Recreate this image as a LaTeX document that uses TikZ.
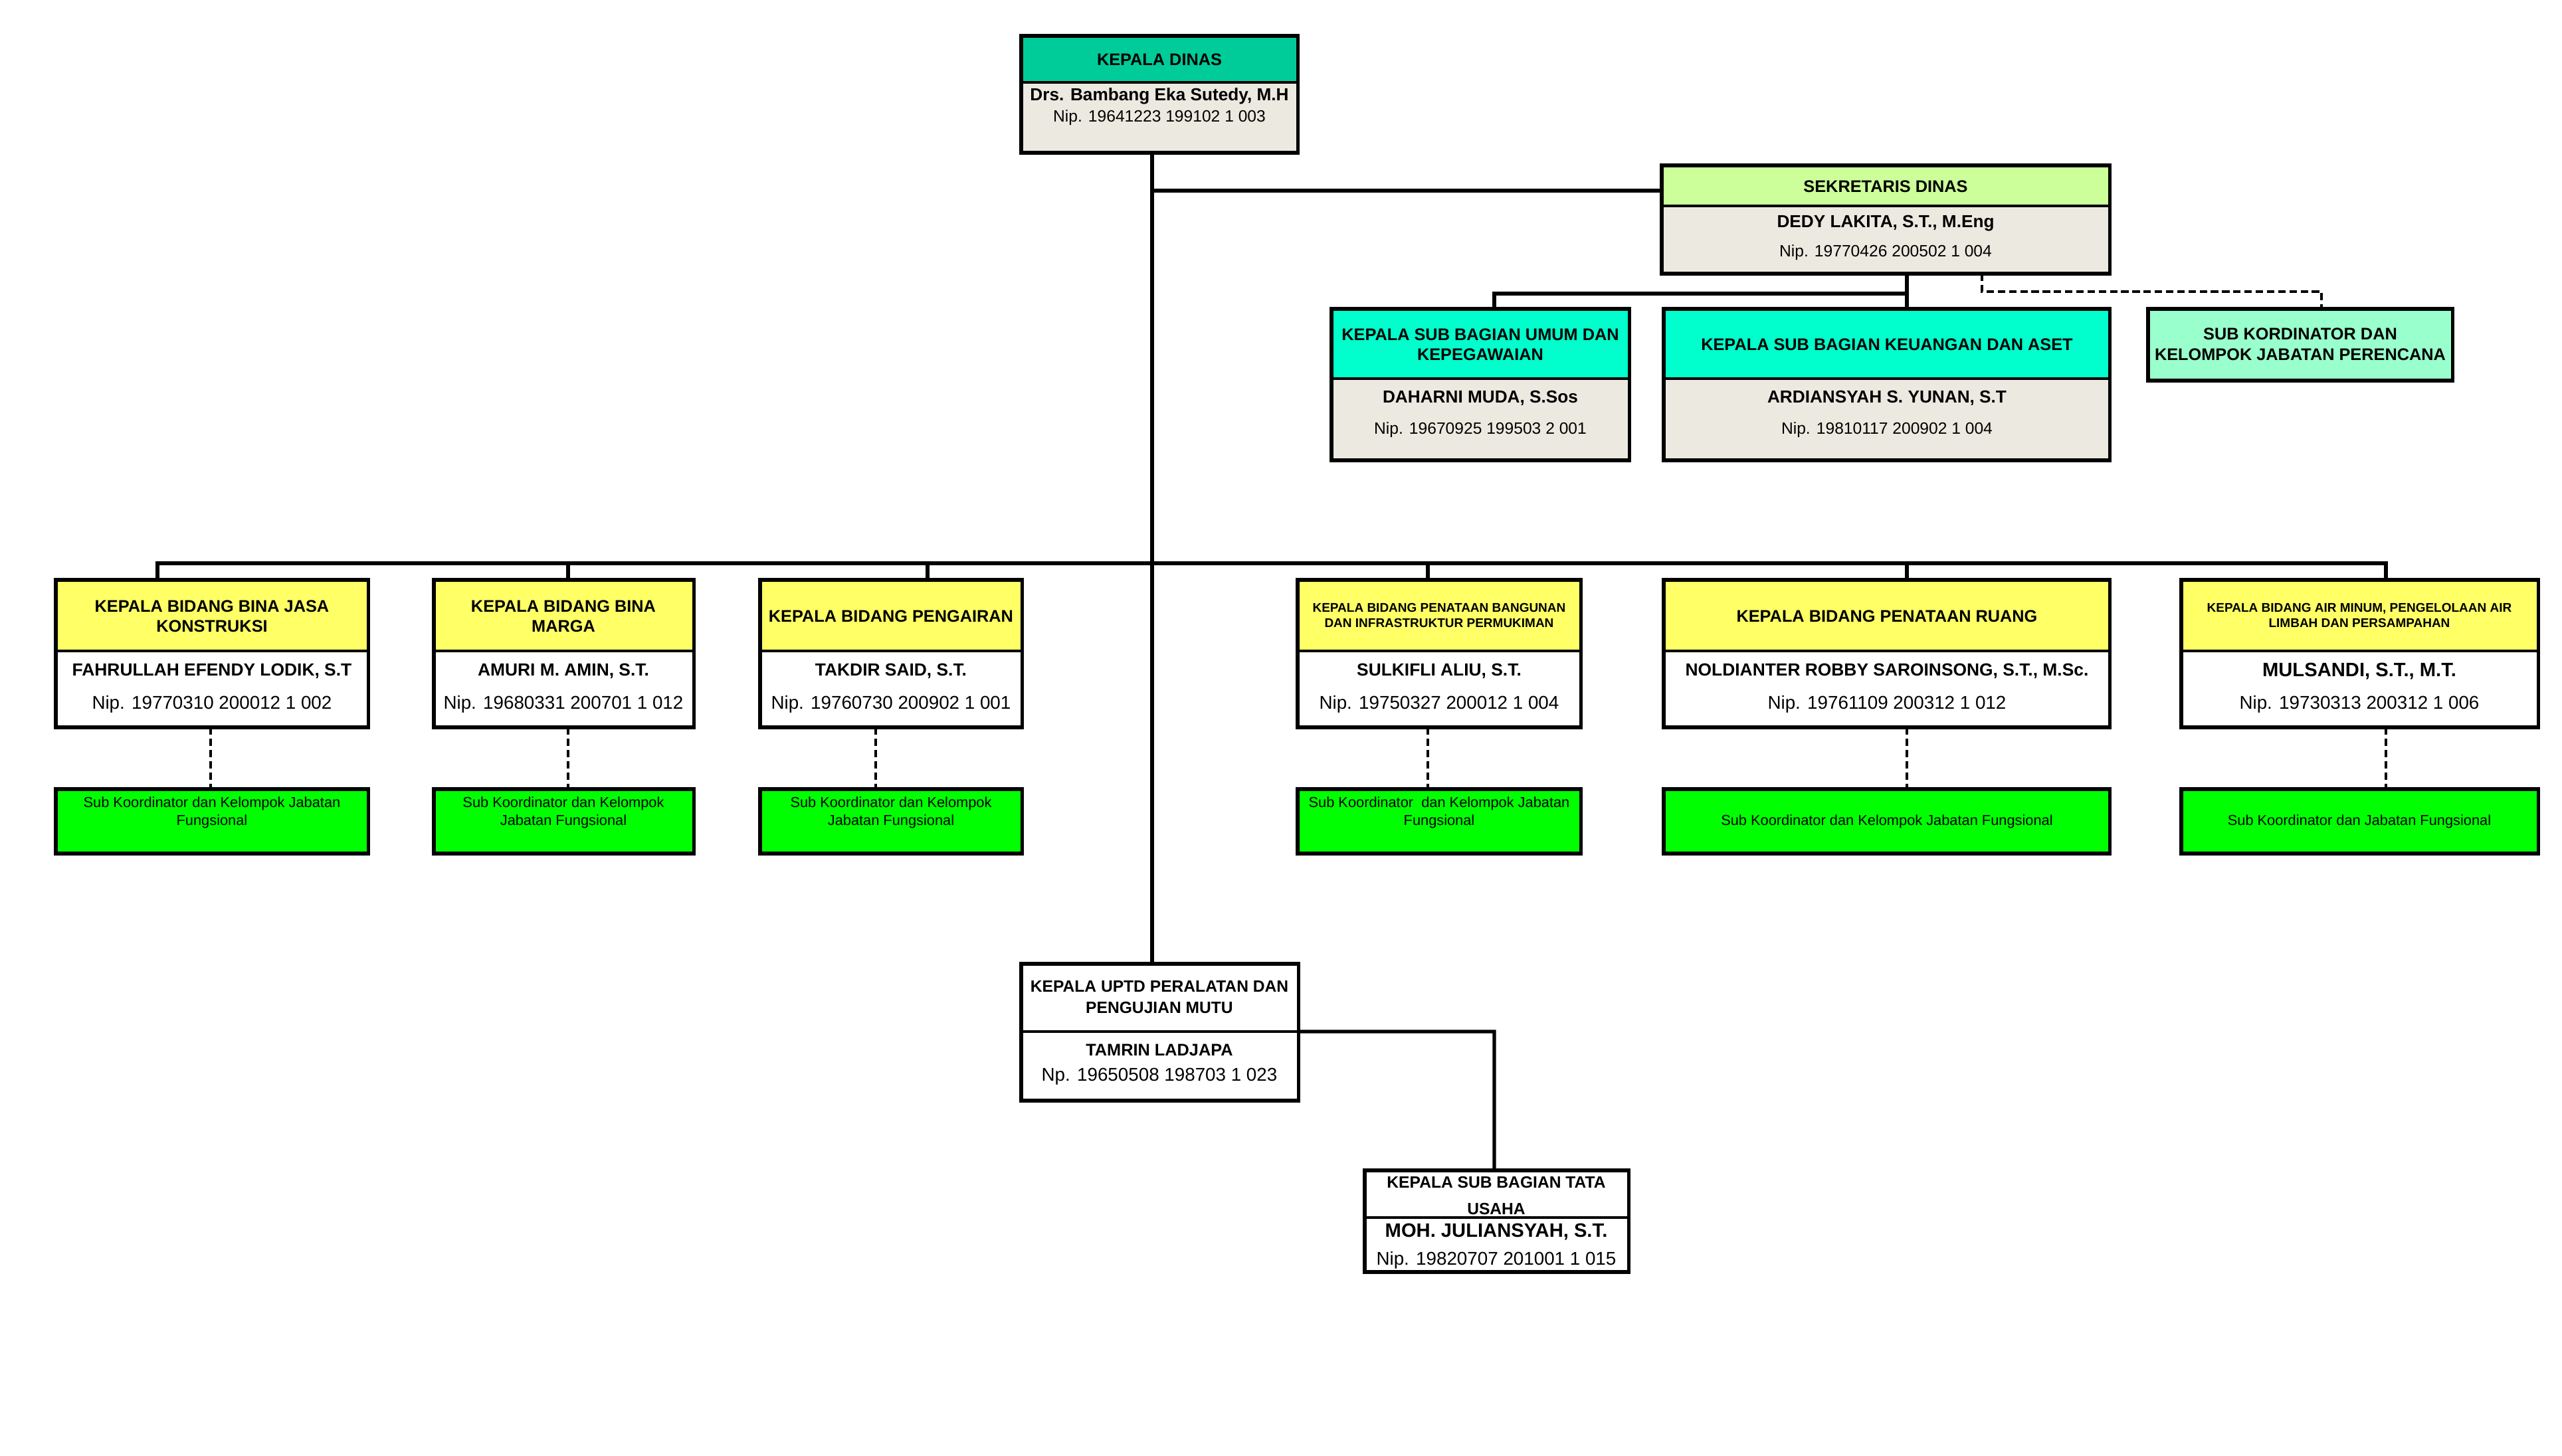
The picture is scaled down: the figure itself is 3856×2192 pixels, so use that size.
\documentclass[tikz,border=0pt]{standalone}
\usepackage{fontspec}
\setmainfont{Liberation Sans}
\usetikzlibrary{calc}
\definecolor{kdteal}{RGB}{0,204,153}
\definecolor{beige}{RGB}{236,233,224}
\definecolor{sekgreen}{RGB}{204,255,153}
\definecolor{aqua}{RGB}{0,255,204}
\definecolor{paleaqua}{RGB}{153,255,204}
\definecolor{bidyellow}{RGB}{255,255,102}
\definecolor{fgreen}{RGB}{0,255,0}
\tikzset{
 boxpart/.style={draw, line width=0.9pt, inner sep=0pt, outer sep=0pt, anchor=north west},
 frame/.style={line width=1.5pt, line join=miter},
 conn/.style={line width=1.5pt, line join=miter},
 dsh/.style={line width=1.1pt, dash pattern=on 3.2pt off 1.6pt},
 lbl/.style={inner sep=0pt, outer sep=0pt, text depth=0pt},
 fT/.style={lbl, text height=5.16pt, font=\bfseries\fontsize{7.2}{8}\selectfont},
 fN/.style={lbl, text height=5.33pt, font=\bfseries\fontsize{7.45}{8}\selectfont},
 fP/.style={lbl, text height=5.01pt, font=\fontsize{7.0}{8}\selectfont},
 fBN/.style={lbl, text height=5.37pt, font=\bfseries\fontsize{7.5}{8}\selectfont},
 fBL/.style={lbl, text height=5.94pt, font=\bfseries\fontsize{8.3}{9}\selectfont},
 fBP/.style={lbl, text height=5.66pt, font=\fontsize{7.9}{9}\selectfont},
 fS/.style={lbl, text height=3.87pt, font=\bfseries\fontsize{5.4}{6}\selectfont},
 fG/.style={lbl, text height=4.44pt, font=\fontsize{6.2}{7}\selectfont},
 fU/.style={lbl, text height=5.01pt, font=\bfseries\fontsize{7.0}{8}\selectfont},
}
\newcommand\orgbox[8]{%
  \node[boxpart,fill=#7,minimum width=#4*0.28453pt,minimum height=#5*0.28453pt] (#1t) at (#2,#3) {};
  \node[boxpart,fill=#8,minimum width=#4*0.28453pt,minimum height=#6*0.28453pt] (#1b) at (#1t.south west) {};
  \draw[frame] (#1t.north west) rectangle (#1b.south east);
}
\newcommand\onebox[6]{%
  \node[boxpart,line width=1.5pt,fill=#6,minimum width=#4*0.28453pt,minimum height=#5*0.28453pt] (#1) at (#2,#3) {};
}
\newcommand\putlbl[5]{\node[#4] (#1) at (#2,#3) {#5};}
\begin{document}
\begin{tikzpicture}[x=0.01cm,y=-0.01cm]
\useasboundingbox[fill=white] (0,0) rectangle (3856,2192);
% ---------- boxes ----------
\orgbox{kd}{1537}{54}{416}{70}{106}{kdteal}{beige}
\orgbox{sek}{2501}{249}{674}{61}{102}{sekgreen}{beige}
\orgbox{um}{2004}{465}{448}{105}{123}{aqua}{beige}
\orgbox{ke}{2504}{465}{671}{105}{123}{aqua}{beige}
\onebox{pe}{3233}{465}{458}{108}{paleaqua}
\orgbox{bA}{84}{873}{470}{107}{115}{bidyellow}{white}
\orgbox{bB}{653}{873}{391}{107}{115}{bidyellow}{white}
\orgbox{bC}{1144}{873}{394}{107}{115}{bidyellow}{white}
\orgbox{bD}{1953}{873}{426}{107}{115}{bidyellow}{white}
\orgbox{bE}{2504}{873}{671}{107}{115}{bidyellow}{white}
\orgbox{bF}{3283}{873}{537}{107}{115}{bidyellow}{white}
\onebox{gA}{84}{1188}{470}{97}{fgreen}
\onebox{gB}{653}{1188}{391}{97}{fgreen}
\onebox{gC}{1144}{1188}{394}{97}{fgreen}
\onebox{gD}{1953}{1188}{426}{97}{fgreen}
\onebox{gE}{2504}{1188}{671}{97}{fgreen}
\onebox{gF}{3283}{1188}{537}{97}{fgreen}
\orgbox{up}{1537}{1451}{417}{102}{104}{white}{white}
\orgbox{tu}{2054}{1762}{397}{71}{82}{white}{white}
% ---------- connectors ----------
\coordinate (tx) at (1734,0);
\coordinate (sj) at (2501,287);
\draw[conn] (tx |- kdb.south) -- (tx |- upt.north);
\draw[conn] (tx |- sj) -- (sj);
\coordinate (s1) at (2870,442);
\coordinate (s2) at (2249,442);
\draw[conn] (s1 |- sekb.south) -- (s1 |- ket.north);
\draw[conn] (s1) -- (s2) -- (s2 |- umt.north);
\coordinate (s3) at (2983,439);
\coordinate (s4) at (3494,439);
\draw[dsh] (s3 |- sekb.south) -- (s3) -- (s4) -- (s4 |- pe.north);
\coordinate (bL) at (237,848);
\coordinate (bR) at (3591,848);
\draw[conn] (bL |- bAt.north) -- (bL) -- (bR) -- (bR |- bFt.north);
\coordinate (dB) at (855,848);
\coordinate (dC) at (1396,848);
\coordinate (dD) at (2149,848);
\coordinate (dE) at (2870,848);
\draw[conn] (dB) -- (dB |- bBt.north);
\draw[conn] (dC) -- (dC |- bCt.north);
\draw[conn] (dD) -- (dD |- bDt.north);
\draw[conn] (dE) -- (dE |- bEt.north);
\coordinate (eA) at (317,0);
\coordinate (eC) at (1318,0);
\draw[dsh] (eA |- bAb.south) -- (eA |- gA.north);
\draw[dsh] (dB |- bBb.south) -- (dB |- gB.north);
\draw[dsh] (eC |- bCb.south) -- (eC |- gC.north);
\draw[dsh] (dD |- bDb.south) -- (dD |- gD.north);
\draw[dsh] (dE |- bEb.south) -- (dE |- gE.north);
\draw[dsh] (bR |- bFb.south) -- (bR |- gF.north);
\coordinate (u1) at (2249,1553);
\draw[conn] (upt.south east) -- (u1) -- (u1 |- tut.north);
% ---------- texts ----------
\putlbl{kd1}{1745}{89}{fT}{KEPALA DINAS}
\putlbl{kd2}{1745}{142}{fN}{Drs. Bambang Eka Sutedy, M.H}
\putlbl{kd3}{1745}{175}{fP}{Nip. 19641223 199102 1 003}
\putlbl{sek1}{2838}{280}{fT}{SEKRETARIS DINAS}
\putlbl{sek2}{2838}{333}{fN}{DEDY LAKITA, S.T., M.Eng}
\putlbl{sek3}{2838}{378}{fP}{Nip. 19770426 200502 1 004}
\putlbl{um1}{2228}{503}{fT}{KEPALA SUB BAGIAN UMUM DAN}
\putlbl{um2}{2228}{533}{fT}{KEPEGAWAIAN}
\putlbl{um3}{2228}{597}{fN}{DAHARNI MUDA, S.Sos}
\putlbl{um4}{2228}{645}{fP}{Nip. 19670925 199503 2 001}
\putlbl{ke1}{2840}{518}{fT}{KEPALA SUB BAGIAN KEUANGAN DAN ASET}
\putlbl{ke3}{2840}{597}{fN}{ARDIANSYAH S. YUNAN, S.T}
\putlbl{ke4}{2840}{645}{fP}{Nip. 19810117 200902 1 004}
\putlbl{pe1}{3462}{502}{fT}{SUB KORDINATOR DAN}
\putlbl{pe2}{3462}{533}{fT}{KELOMPOK JABATAN PERENCANA}
% bidang A
\putlbl{bA1}{319}{912}{fT}{KEPALA BIDANG BINA JASA}
\putlbl{bA2}{319}{942}{fT}{KONSTRUKSI}
\putlbl{bA3}{319}{1008}{fBN}{FAHRULLAH EFENDY LODIK, S.T}
\putlbl{bA4}{319}{1058}{fBP}{Nip. 19770310 200012 1 002}
\putlbl{gA1}{319}{1208}{fG}{Sub Koordinator dan Kelompok Jabatan}
\putlbl{gA2}{319}{1235}{fG}{Fungsional}
% bidang B
\putlbl{bB1}{848}{912}{fT}{KEPALA BIDANG BINA}
\putlbl{bB2}{848}{942}{fT}{MARGA}
\putlbl{bB3}{848}{1008}{fBN}{AMURI M. AMIN, S.T.}
\putlbl{bB4}{848}{1058}{fBP}{Nip. 19680331 200701 1 012}
\putlbl{gB1}{848}{1208}{fG}{Sub Koordinator dan Kelompok}
\putlbl{gB2}{848}{1235}{fG}{Jabatan Fungsional}
% bidang C
\putlbl{bC1}{1341}{927}{fT}{KEPALA BIDANG PENGAIRAN}
\putlbl{bC3}{1341}{1008}{fBN}{TAKDIR SAID, S.T.}
\putlbl{bC4}{1341}{1058}{fBP}{Nip. 19760730 200902 1 001}
\putlbl{gC1}{1341}{1208}{fG}{Sub Koordinator dan Kelompok}
\putlbl{gC2}{1341}{1235}{fG}{Jabatan Fungsional}
% bidang D
\putlbl{bD1}{2166}{915}{fS}{KEPALA BIDANG PENATAAN BANGUNAN}
\putlbl{bD2}{2166}{938}{fS}{DAN INFRASTRUKTUR PERMUKIMAN}
\putlbl{bD3}{2166}{1008}{fBN}{SULKIFLI ALIU, S.T.}
\putlbl{bD4}{2166}{1058}{fBP}{Nip. 19750327 200012 1 004}
\putlbl{gD1}{2166}{1208}{fG}{Sub Koordinator\ \ dan Kelompok Jabatan}
\putlbl{gD2}{2166}{1235}{fG}{Fungsional}
% bidang E
\putlbl{bE1}{2840}{927}{fT}{KEPALA BIDANG PENATAAN RUANG}
\putlbl{bE3}{2840}{1008}{fBN}{NOLDIANTER ROBBY SAROINSONG, S.T., M.Sc.}
\putlbl{bE4}{2840}{1058}{fBP}{Nip. 19761109 200312 1 012}
\putlbl{gE1}{2840}{1235}{fG}{Sub Koordinator dan Kelompok Jabatan Fungsional}
% bidang F
\putlbl{bF1}{3551}{915}{fS}{KEPALA BIDANG AIR MINUM, PENGELOLAAN AIR}
\putlbl{bF2}{3551}{938}{fS}{LIMBAH DAN PERSAMPAHAN}
\putlbl{bF3}{3551}{1008}{fBL}{MULSANDI, S.T., M.T.}
\putlbl{bF4}{3551}{1058}{fBP}{Nip. 19730313 200312 1 006}
\putlbl{gF1}{3551}{1235}{fG}{Sub Koordinator dan Jabatan Fungsional}
% UPTD
\putlbl{up1}{1745}{1485}{fU}{KEPALA UPTD PERALATAN DAN}
\putlbl{up2}{1745}{1517}{fU}{PENGUJIAN MUTU}
\putlbl{up3}{1745}{1580}{fT}{TAMRIN LADJAPA}
\putlbl{up4}{1745}{1618}{fBP}{Np. 19650508 198703 1 023}
% Tata Usaha
\putlbl{tu1}{2252}{1780}{fU}{KEPALA SUB BAGIAN TATA}
\putlbl{tu2}{2252}{1820}{fU}{USAHA}
\putlbl{tu3}{2252}{1852}{fBL}{MOH. JULIANSYAH, S.T.}
\putlbl{tu4}{2252}{1895}{fBP}{Nip. 19820707 201001 1 015}
\end{tikzpicture}
\end{document}
